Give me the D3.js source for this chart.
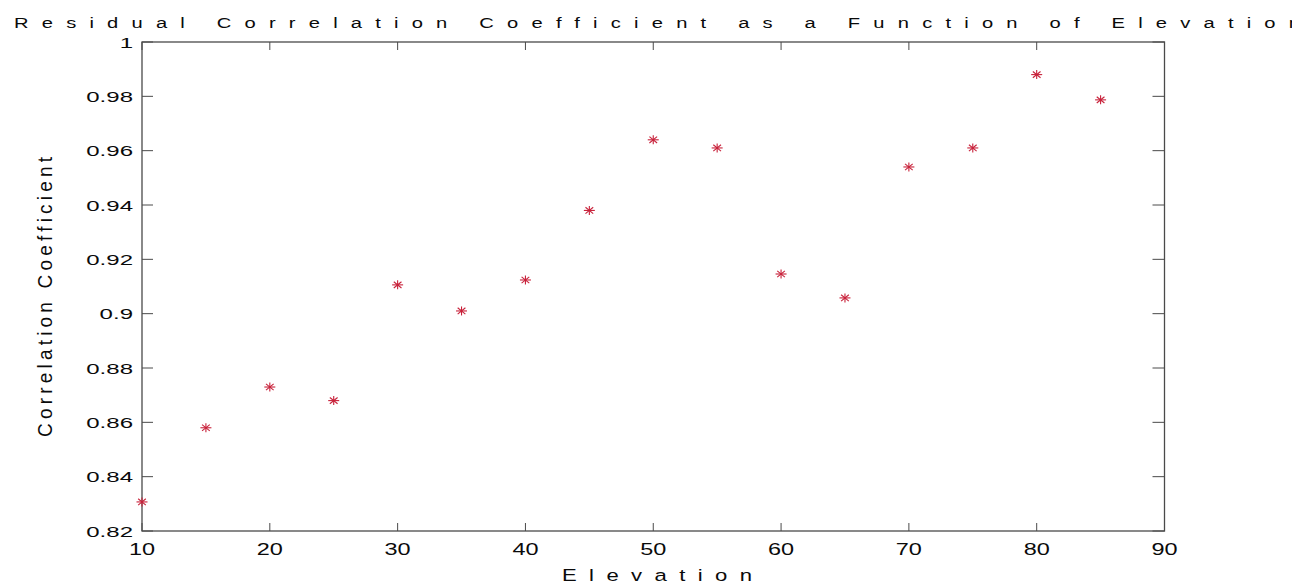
<!DOCTYPE html>
<html><head><meta charset="utf-8">
<script src="https://cdn.jsdelivr.net/npm/d3@7"></script>
<style>html,body{margin:0;padding:0;background:#fff;}svg{display:block;font-family:"Liberation Sans",Arial,sans-serif;}</style>
</head><body>
<svg id="c" width="1311" height="588"></svg>
<script>
const elevation = [10,15,20,25,30,35,40,45,50,55,60,65,70,75,80,85];
const correlation = [0.8307,0.858,0.873,0.868,0.9106,0.901,0.9124,0.938,0.964,0.961,0.9146,0.9058,0.954,0.961,0.988,0.9787];
const xTicks = [10,20,30,40,50,60,70,80,90];
const yTicks = [0.82,0.84,0.86,0.88,0.9,0.92,0.94,0.96,0.98,1];
const titleText = "Residual Correlation Coefficient as a Function of Elevation";
const xLabelText = "Elevation";
const yLabelText = "Correlation Coefficient";

const L = 142, R = 1164.5, T = 42, B = 531;
const svg = d3.select("#c");
const x = d3.scaleLinear().domain([10,90]).range([L,R]);
const y = d3.scaleLinear().domain([0.82,1]).range([B,T]);
const axisColor = "#4a4a4a";
const textColor = "#0a0a0a";

// box
svg.append("rect").attr("x",L).attr("y",T).attr("width",R-L).attr("height",B-T)
  .attr("fill","none").attr("stroke",axisColor).attr("stroke-width",1.3);

// ticks
const g = svg.append("g").attr("stroke",axisColor).attr("stroke-width",1);
xTicks.forEach(t=>{
  g.append("line").attr("x1",x(t)).attr("x2",x(t)).attr("y1",B).attr("y2",B-8);
  g.append("line").attr("x1",x(t)).attr("x2",x(t)).attr("y1",T).attr("y2",T+8);
});
yTicks.forEach(t=>{
  g.append("line").attr("x1",L).attr("x2",L+11).attr("y1",y(t)).attr("y2",y(t));
  g.append("line").attr("x1",R).attr("x2",R-12).attr("y1",y(t)).attr("y2",y(t));
});

// tick labels
const fmt = d => String(+d.toFixed(2));
svg.append("g").selectAll("text").data(xTicks).join("text")
  .attr("transform",d=>`translate(${x(d)},555) scale(1.38,1)`)
  .attr("text-anchor","middle").attr("font-size",17).attr("fill",textColor)
  .text(d=>d);
svg.append("g").selectAll("text").data(yTicks).join("text")
  .attr("transform",d=>`translate(133,${y(d)+5.8}) scale(1.55,1)`)
  .attr("text-anchor","end").attr("font-size",15.5).attr("fill",textColor)
  .text(fmt);

// markers (asterisk)
const star = svg.append("g").attr("stroke","#c8213a").attr("stroke-width",1.1);
elevation.forEach((e,i)=>{
  const cx = x(e), cy = y(correlation[i]);
  const rx = 5.5, ry = 4.5;
  star.append("line").attr("x1",cx-rx).attr("x2",cx+rx).attr("y1",cy).attr("y2",cy);
  star.append("line").attr("x1",cx).attr("x2",cx).attr("y1",cy-ry).attr("y2",cy+ry);
  star.append("line").attr("x1",cx-rx*0.7).attr("x2",cx+rx*0.7).attr("y1",cy-ry*0.7).attr("y2",cy+ry*0.7);
  star.append("line").attr("x1",cx-rx*0.7).attr("x2",cx+rx*0.7).attr("y1",cy+ry*0.7).attr("y2",cy-ry*0.7);
});

// title (clipped at right edge like reference)
const TS = 1.3;
svg.append("clipPath").attr("id","tclip").append("rect").attr("x",0).attr("y",0).attr("width",1292).attr("height",40);
svg.append("g").attr("clip-path","url(#tclip)")
  .append("g").attr("transform",`translate(14,27.5) scale(${TS},1)`)
  .append("text").attr("x",0).attr("y",0).attr("font-size",15.5).attr("fill",textColor)
  .attr("textLength",(1300-14)/TS).attr("lengthAdjust","spacing")
  .text(titleText);

// x label
const XS = 1.3;
svg.append("g").attr("transform",`translate(562,581) scale(${XS},1)`)
  .append("text").attr("x",0).attr("y",0).attr("font-size",17).attr("fill",textColor)
  .attr("textLength",190/XS).attr("lengthAdjust","spacing")
  .text(xLabelText);

// y label
svg.append("g").attr("transform",`translate(52,437) scale(1.1,1) rotate(-90)`)
  .append("text").attr("x",0).attr("y",0).attr("font-size",19).attr("fill",textColor)
  .attr("textLength",280).attr("lengthAdjust","spacing")
  .text(yLabelText);
</script>
</body></html>
